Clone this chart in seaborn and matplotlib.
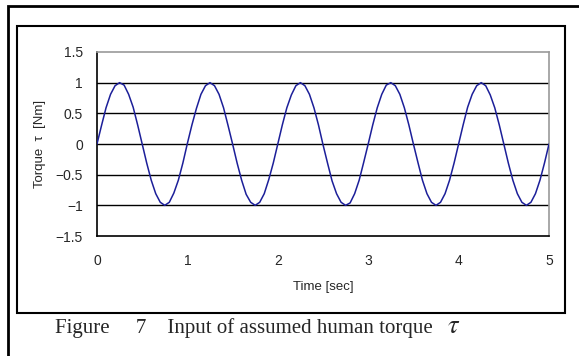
import numpy as np
import pandas as pd
import matplotlib
matplotlib.use("Agg")
import matplotlib.pyplot as plt
import seaborn as sns
from matplotlib.patches import Rectangle

# values, one sample every 0.05 s
time_sec = [round(0.05 * i, 2) for i in range(101)]
torque_nm = [
    0.00, 0.30, 0.59, 0.81, 0.95, 1.00, 0.96, 0.81, 0.60, 0.31,
    0.00, -0.31, -0.59, -0.81, -0.95, -1.00, -0.95, -0.80, -0.59, -0.31,
    0.01, 0.31, 0.58, 0.81, 0.95, 1.00, 0.95, 0.81, 0.59, 0.30,
    0.00, -0.31, -0.59, -0.82, -0.95, -1.00, -0.95, -0.81, -0.58, -0.31,
    0.00, 0.31, 0.59, 0.80, 0.95, 1.00, 0.95, 0.81, 0.59, 0.31,
    -0.01, -0.31, -0.60, -0.81, -0.95, -1.00, -0.96, -0.81, -0.59, -0.30,
    0.00, 0.31, 0.59, 0.81, 0.96, 1.00, 0.95, 0.81, 0.59, 0.31,
    0.00, -0.30, -0.59, -0.81, -0.95, -1.00, -0.95, -0.81, -0.59, -0.31,
    0.00, 0.31, 0.60, 0.81, 0.95, 1.00, 0.95, 0.80, 0.59, 0.31,
    0.00, -0.31, -0.59, -0.81, -0.95, -1.00, -0.95, -0.81, -0.59, -0.31,
    0.00,
]
x_ticks = [0, 1, 2, 3, 4, 5]
y_ticks = [-1.5, -1, -0.5, 0, 0.5, 1, 1.5]
y_labels = ["\u22121.5", "\u22121", "\u22120.5", "0", "0.5", "1", "1.5"]

df = pd.DataFrame({"time": time_sec, "torque": torque_nm})

sns.set_style("white")
plt.rcParams["font.family"] = ["Liberation Sans", "DejaVu Sans"]
plt.rcParams["mathtext.fontset"] = "stix"

fig = plt.figure(figsize=(5.79, 3.56), dpi=100)
ax = fig.add_axes([0.1675, 0.337, 0.7807, 0.517])

# horizontal gridlines
for v in [-1, -0.5, 0, 0.5, 1]:
    ax.axhline(v, color="black", lw=1.0, zorder=1)

sns.lineplot(data=df, x="time", y="torque", ax=ax, color="#1c1f99", lw=1.1, zorder=3)

ax.set_xlim(0, 5)
ax.set_ylim(-1.5, 1.5)
ax.set_xticks(x_ticks)
ax.set_xticklabels([str(t) for t in x_ticks])
ax.set_yticks(y_ticks)
ax.set_yticklabels(y_labels)
ax.tick_params(axis="x", direction="in", length=4, width=1, color="black",
               pad=13, labelsize=10)
ax.tick_params(axis="y", length=0, pad=10, labelsize=10)

for side in ["left", "bottom"]:
    ax.spines[side].set_color("black")
    ax.spines[side].set_linewidth(1.2)
for side in ["top", "right"]:
    ax.spines[side].set_color("#9a9a9a")
    ax.spines[side].set_linewidth(1.2)

ax.set_xlabel("Time [sec]", fontsize=9.5)
ax.set_ylabel("Torque  \u03c4  [Nm]", fontsize=9.5)
ax.xaxis.set_label_coords(0.5, -0.245)
ax.yaxis.set_label_coords(-0.113, 0.5)

# inner chart frame
fig.add_artist(Rectangle((0.0294, 0.1208), 0.9464, 0.8062, transform=fig.transFigure,
                         fill=False, edgecolor="black", lw=1.5))
# outer frame (top and left edges only visible)
fig.add_artist(Rectangle((0.0138, -0.1), 1.2, 1.083, transform=fig.transFigure,
                         fill=False, edgecolor="black", lw=2.0, clip_on=False))

cap = fig.text(0.095, 0.079, "Figure     7    Input of assumed human torque",
               family="Liberation Serif", fontsize=15, va="center", ha="left")
fig.text(0.772, 0.084, "$\\tau$", fontsize=19, va="center", ha="left")

fig.savefig("out.png", dpi=100)
